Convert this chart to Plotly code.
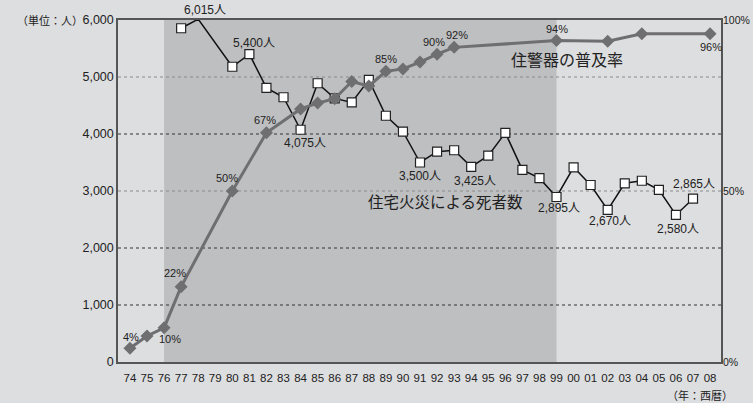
import plotly.graph_objects as go

# ---------------- data ----------------
years = ["74", "75", "76", "77", "78", "79", "80", "81", "82", "83", "84", "85",
         "86", "87", "88", "89", "90", "91", "92", "93", "94", "95", "96", "97",
         "98", "99", "00", "01", "02", "03", "04", "05", "06", "07", "08"]

death_years = ["77", "78", "80", "81", "82", "83", "84", "85", "86", "87", "88",
               "89", "90", "91", "92", "93", "94", "95", "96", "97", "98", "99",
               "00", "01", "02", "03", "04", "05", "06", "07"]
deaths = [5855, 6015, 5180, 5400, 4810, 4645, 4075, 4890, 4625, 4555, 4950,
          4320, 4040, 3500, 3690, 3715, 3425, 3620, 4020, 3370, 3225, 2895,
          3415, 3105, 2670, 3135, 3180, 3020, 2580, 2865]

pct_years = ["74", "75", "76", "77", "80", "82", "84", "85", "86", "87", "88",
             "89", "90", "91", "92", "93", "99", "02", "04", "08"]
pct = [4, 7.6, 10, 22, 50, 67, 74, 75.7, 77, 82, 80.7, 85, 85.7, 87.7, 90, 92,
       94, 93.8, 96, 96]

death_label_years = ["78", "81", "84", "91", "94", "99", "02", "06", "07"]
pct_label_years = ["74", "76", "77", "80", "82", "89", "92", "93", "99", "08"]

left_ticks = [0, 1000, 2000, 3000, 4000, 5000, 6000]
right_ticks = [0, 50, 100]
shade_from, shade_to = "76", "99"

death_name = "住宅火災による死者数"
pct_name = "住警器の普及率"

# ---------------- style ----------------
FONT = "Liberation Sans, Arial, Noto Sans CJK JP, sans-serif"
BG = "#dddee0"
SHADE = "#bebfc1"
TXT = "#222222"

death_label_off = {"78": (7, 10), "81": (5, 11), "84": (4, -13), "91": (0, -13),
                   "94": (4, -14), "99": (2, -11), "02": (2, -11), "06": (2, -14),
                   "07": (1, 15)}
pct_label_off = {"74": (1, 11), "76": (6, -11), "77": (-6, 14), "80": (-5, 13),
                 "82": (-1, 13), "89": (0, 12), "92": (-3, 12), "93": (3, 12),
                 "99": (0, 12), "08": (1, -13)}

xi = {y: i for i, y in enumerate(years)}
ymax = left_ticks[-1]

fig = go.Figure()

fig.add_trace(go.Scatter(
    x=[xi[y] for y in pct_years], y=pct, yaxis="y2", mode="lines+markers",
    name=pct_name, line=dict(color="#6f6f71", width=3),
    marker=dict(symbol="diamond", size=10, color="#6f6f71"),
    showlegend=False, cliponaxis=False, hoverinfo="skip"))

fig.add_trace(go.Scatter(
    x=[xi[y] for y in death_years], y=deaths, mode="lines+markers",
    name=death_name, line=dict(color="#111111", width=1.5),
    marker=dict(symbol="square", size=9, color="white",
                line=dict(color="#222222", width=1.2)),
    showlegend=False, cliponaxis=False, hoverinfo="skip"))

shapes = []
shapes.append(dict(type="rect", xref="x", yref="paper", x0=xi[shade_from],
                   x1=xi[shade_to], y0=0, y1=1,
                   fillcolor=SHADE, line=dict(width=0), layer="below"))
for t in left_ticks[1:-1]:
    dark = t in (1000, 2000, 4000)
    shapes.append(dict(type="line", xref="paper", yref="y", x0=0, x1=1, y0=t, y1=t,
                       line=dict(color="#333333" if dark else "#8a8a8a", width=1,
                                 dash="dot"), layer="below"))

annotations = []
for yr in death_label_years:
    v = deaths[death_years.index(yr)]
    dx, dy = death_label_off[yr]
    annotations.append(dict(x=xi[yr], y=min(v, ymax), xref="x", yref="y",
                            text=f"{v:,}人", showarrow=False, xshift=dx, yshift=dy,
                            font=dict(size=12, color=TXT, family=FONT)))
for yr in pct_label_years:
    v = pct[pct_years.index(yr)]
    dx, dy = pct_label_off[yr]
    annotations.append(dict(x=xi[yr], y=v, xref="x", yref="y2", text=f"{v:g}%",
                            showarrow=False, xshift=dx, yshift=dy,
                            font=dict(size=11, color=TXT, family=FONT)))

annotations += [
    dict(x=-0.055, y=ymax, xref="paper", yref="y", text="（単位：人）",
         xanchor="right", yanchor="middle", showarrow=False,
         font=dict(size=11, color=TXT, family=FONT)),
    dict(x=1.023, y=-0.097, xref="paper", yref="paper", text="（年：西暦）",
         xanchor="right", yanchor="middle", showarrow=False,
         font=dict(size=11, color=TXT, family=FONT)),
    dict(x=0.649, y=0.883, xref="paper", yref="paper", text=pct_name,
         xanchor="left", yanchor="middle", showarrow=False,
         font=dict(size=16, color=TXT, family=FONT)),
    dict(x=0.4113, y=0.465, xref="paper", yref="paper", text=death_name,
         xanchor="left", yanchor="middle", showarrow=False,
         font=dict(size=15.5, color=TXT, family=FONT)),
]

fig.update_layout(
    width=753, height=403,
    margin=dict(l=118, r=32, t=20, b=41, autoexpand=False),
    paper_bgcolor=BG, plot_bgcolor=BG,
    font=dict(family=FONT, color=TXT),
    shapes=shapes, annotations=annotations,
    xaxis=dict(range=[-0.7, len(years) - 1 + 0.64], showgrid=False,
               tickmode="array", tickvals=list(range(len(years))), ticktext=years,
               tickfont=dict(size=11.5, color=TXT), ticks="", automargin=False,
               ticklabelstandoff=4,
               showline=True, linecolor="#555555", linewidth=1.5, mirror=True,
               zeroline=False),
    yaxis=dict(range=[0, ymax], tickvals=left_ticks,
               ticktext=[f"{t:,}" for t in left_ticks], automargin=False,
               tickfont=dict(size=12.5, color=TXT), showgrid=False, ticks="",
               showline=True, linecolor="#555555", linewidth=1.5, mirror=True,
               zeroline=False),
    yaxis2=dict(range=[0, 100], overlaying="y", side="right", automargin=False,
                tickvals=right_ticks, ticktext=[f"{t}%" for t in right_ticks],
                tickfont=dict(size=10.5, color=TXT), showgrid=False, ticks="",
                ticklabelstandoff=1,
                showline=False, zeroline=False),
)

fig.write_html(
    "out.html",
    config={"displayModeBar": False},
    post_script="document.body.style.margin='0';"
                "document.body.style.overflow='hidden';")
